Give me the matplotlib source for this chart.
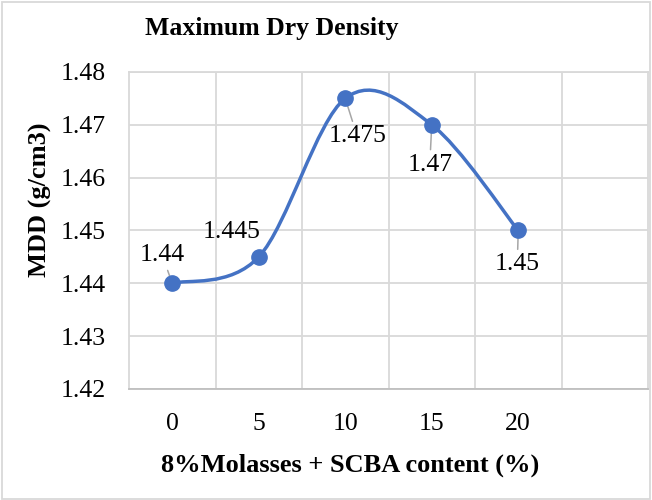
import matplotlib
matplotlib.use("Agg")
import matplotlib.pyplot as plt
from matplotlib.path import Path
from matplotlib.patches import PathPatch, Rectangle

# Data
categories = ["0", "5", "10", "15", "20"]
mdd = [1.44, 1.445, 1.475, 1.47, 1.45]
labels = ["1.44", "1.445", "1.475", "1.47", "1.45"]

# label offsets (pixels) from each point, and whether Excel drew a leader line
label_offsets = [(-10, 28), (-27, 25), (12, -38), (-2, -40), (-1, -34)]
show_leader = [True, False, True, True, True]

plt.rcParams['font.family'] = ['Liberation Serif', 'DejaVu Serif']
blue = '#4472C4'
grid_c = '#D9D9D9'

fig = plt.figure(figsize=(6.52, 5.0), dpi=100)
ax = fig.add_axes([129 / 652, 1 - 389 / 500, (648 - 129) / 652, (389 - 72) / 500])

xs = list(range(len(mdd)))

# Excel-style smoothed line: cubic Bezier segments (Catmull-Rom control points)
pts = list(zip(xs, mdd))
verts = [pts[0]]
codes = [Path.MOVETO]
for i in range(len(pts) - 1):
    p0 = pts[i - 1] if i > 0 else pts[i]
    p1 = pts[i]
    p2 = pts[i + 1]
    p3 = pts[i + 2] if i + 2 < len(pts) else pts[i + 1]
    c1 = (p1[0] + (p2[0] - p0[0]) / 6, p1[1] + (p2[1] - p0[1]) / 6)
    c2 = (p2[0] - (p3[0] - p1[0]) / 6, p2[1] - (p3[1] - p1[1]) / 6)
    verts += [c1, c2, p2]
    codes += [Path.CURVE4] * 3
ax.add_patch(PathPatch(Path(verts, codes), facecolor='none', edgecolor=blue,
                       lw=2.5, capstyle='round', zorder=3))
ax.plot(xs, mdd, linestyle='none', marker='o', markersize=11,
        color=blue, zorder=4)

for x, y, txt, off, lead in zip(xs, mdd, labels, label_offsets, show_leader):
    arrow = dict(arrowstyle='-', color='#A6A6A6', lw=1.1, shrinkA=1, shrinkB=0) if lead else None
    ax.annotate(txt, xy=(x, y), xytext=(off[0] * 0.72, off[1] * 0.72),
                textcoords='offset points', ha='center', va='center',
                fontsize=18.5, color='#000000', arrowprops=arrow, zorder=2)

ax.set_xlim(-0.5, 5.5)
ax.set_ylim(1.42, 1.48)
ax.set_xticks(xs)
ax.set_xticklabels(categories)
ax.set_yticks([1.42, 1.43, 1.44, 1.45, 1.46, 1.47, 1.48])
ax.set_yticklabels(["1.42", "1.43", "1.44", "1.45", "1.46", "1.47", "1.48"])

# vertical gridlines between categories
for b in [0.5, 1.5, 2.5, 3.5, 4.5]:
    ax.axvline(b, color=grid_c, lw=1.3, zorder=1)
ax.yaxis.grid(True, color=grid_c, lw=1.3, zorder=1)
ax.set_axisbelow(True)

for s in ['top', 'right', 'left']:
    ax.spines[s].set_color(grid_c)
    ax.spines[s].set_linewidth(1.3)
ax.spines['bottom'].set_color('#BFBFBF')
ax.spines['bottom'].set_linewidth(1.3)
ax.tick_params(axis='both', length=0, labelsize=18.5)
ax.tick_params(axis='x', pad=17)
ax.tick_params(axis='y', pad=17)

fig.text(272 / 652, 1 - 29 / 500, "Maximum Dry Density", ha='center', va='center',
         fontsize=18.5, fontweight='bold')
fig.text(350 / 652, 1 - 465 / 500, "8%Molasses + SCBA content (%)", ha='center', va='center',
         fontsize=19, fontweight='bold')
fig.text(40 / 652, 1 - 200 / 500, "MDD (g/cm3)", ha='center', va='center',
         fontsize=19, fontweight='bold', rotation=90)

# chart area border
fig.patches.append(Rectangle((0.003, 0.003), 0.994, 0.994, transform=fig.transFigure,
                             fill=False, edgecolor=grid_c, lw=1.3))

fig.savefig("out.png", dpi=100)
